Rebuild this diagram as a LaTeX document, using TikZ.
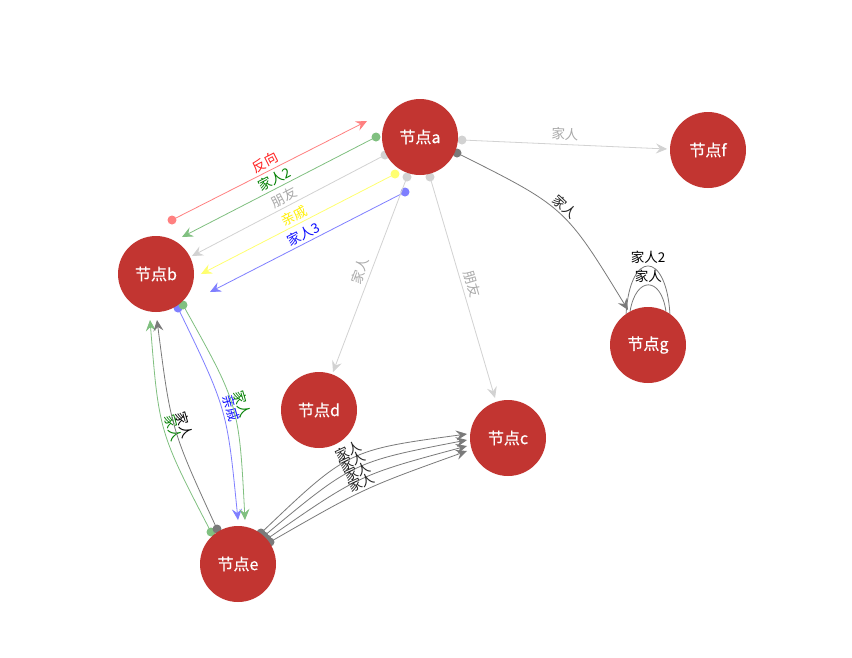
\documentclass[tikz,border=0pt]{standalone}
\usepackage{fontspec}
\setmainfont{Noto Sans CJK SC}
\newfontfamily\ndfont{Noto Sans CJK SC}[FakeBold=0.5]
\usetikzlibrary{arrows.meta}
\pgfdeclarelayer{paper}
\pgfdeclarelayer{bg}
\pgfsetlayers{paper,bg,main}
\definecolor{nodered}{HTML}{C23531}
\definecolor{lred}{HTML}{FF8080}
\definecolor{lgreen}{HTML}{80C080}
\definecolor{lgray}{HTML}{D2D2D2}
\definecolor{lyellow}{HTML}{FFFF70}
\definecolor{lblue}{HTML}{7F7FFF}
\definecolor{dgray}{HTML}{7A7A7A}
\definecolor{tred}{HTML}{FF2020}
\definecolor{tgreen}{HTML}{008000}
\definecolor{tgray}{HTML}{AAAAAA}
\definecolor{tyellow}{HTML}{FFF000}
\definecolor{tblue}{HTML}{1010FF}
\definecolor{tdark}{HTML}{222222}
\begin{document}
\begin{tikzpicture}[x=1pt,y=-1pt,
  nd/.style={circle,fill=nodered,minimum size=76pt,inner sep=0pt,text=white,font=\ndfont\fontsize{16}{18}\selectfont},
  lbl/.style={font=\fontsize{13.5}{15}\selectfont,inner sep=1pt},
  tip/.style={-{Stealth[length=11pt,width=10pt,inset=4pt]}},
  edge/.style={line width=0.8pt},
  dot/.style={radius=4.5}
]
\begin{pgfonlayer}{paper}
\useasboundingbox[fill=white] (0,0) rectangle (852,657);
\end{pgfonlayer}
\node[nd] (a) at (420,137) {节点a};
\node[nd] (f) at (708,150) {节点f};
\node[nd] (b) at (156,274) {节点b};
\node[nd] (g) at (648,345) {节点g};
\node[nd] (d) at (319,410) {节点d};
\node[nd] (c) at (508,438) {节点c};
\node[nd] (e) at (238,564) {节点e};
\begin{pgfonlayer}{bg}
% a -- b parallel edges
\coordinate (rS) at (172,220); \coordinate (rE) at (367,121);
\coordinate (gS) at (376,137); \coordinate (gE) at (182,237);
\coordinate (pS) at (385,155); \coordinate (pE) at (192,256);
\coordinate (qS) at (395,174); \coordinate (qE) at (201,274);
\coordinate (uS) at (405,192); \coordinate (uE) at (210,292);
\draw[edge,tip,lred] (rS) -- node[lbl,sloped,above=1.5pt,text=tred]{反向} (rE);
\fill[lred] (rS) circle[dot];
\draw[edge,tip,lgreen] (gS) -- node[lbl,sloped,above=1.5pt,text=tgreen]{家人2} (gE);
\fill[lgreen] (gS) circle[dot];
\draw[edge,tip,lgray] (pS) -- node[lbl,sloped,above=1.5pt,text=tgray]{朋友} (pE);
\fill[lgray] (pS) circle[dot];
\draw[edge,tip,lyellow] (qS) -- node[lbl,sloped,above=1.5pt,text=tyellow]{亲戚} (qE);
\fill[lyellow] (qS) circle[dot];
\draw[edge,tip,lblue] (uS) -- node[lbl,sloped,above=1.5pt,text=tblue]{家人3} (uE);
\fill[lblue] (uS) circle[dot];
% a -- f
\coordinate (afS) at (462,140); \coordinate (afE) at (667,149);
\draw[edge,tip,lgray] (afS) -- node[lbl,sloped,above=3pt,text=tgray]{家人} (afE);
\fill[lgray] (afS) circle[dot];
% a -- d
\coordinate (adS) at (407,177); \coordinate (adE) at (333,372);
\draw[edge,tip,lgray] (adS) -- node[lbl,sloped,above=3pt,text=tgray]{家人} (adE);
\fill[lgray] (adS) circle[dot];
% a -- c
\coordinate (acS) at (430,177); \coordinate (acE) at (495,398);
\draw[edge,tip,lgray] (acS) -- node[lbl,sloped,above=3pt,text=tgray]{朋友} (acE);
\fill[lgray] (acS) circle[dot];
% a -- g
\coordinate (agS) at (457,153); \coordinate (agE) at (628,310);
\draw[edge,tip,dgray] (agS) .. controls (565,207) .. node[lbl,sloped,above=1pt,text=tdark]{家人} (agE);
\fill[dgray] (agS) circle[dot];
% g self loops
\draw[edge,dgray] (g.125) .. controls (630,250) and (666,250) .. node[lbl,above=0.5pt,text=black]{家人2} (g.55);
\draw[edge,dgray] (g.118) .. controls (636,276) and (661,276) .. node[lbl,above=0.5pt,text=black]{家人} (g.62);
% e -- b
\coordinate (eb1S) at (211,532); \coordinate (eb1E) at (150,320);
\coordinate (eb2S) at (217,529); \coordinate (eb2E) at (157,320);
\draw[edge,tip,lgreen] (eb1S) .. controls (159,432) .. node[lbl,sloped,above=2pt,text=tgreen]{家人} (eb1E);
\draw[edge,tip,dgray] (eb2S) .. controls (171,429) .. node[lbl,sloped,above=2pt,text=black]{家人} (eb2E);
\fill[lgreen] (eb1S) circle[dot];
\fill[dgray] (eb2S) circle[dot];
% b -- e
\coordinate (be1S) at (178,308); \coordinate (be1E) at (238,520);
\coordinate (be2S) at (183,305); \coordinate (be2E) at (245,520);
\draw[edge,tip,lblue] (be1S) .. controls (227,409) .. node[lbl,sloped,above=2pt,text=tblue]{亲戚} (be1E);
\draw[edge,tip,lgreen] (be2S) .. controls (239,405) .. node[lbl,sloped,above=2pt,text=tgreen]{家人} (be2E);
\fill[lblue] (be1S) circle[dot];
\fill[lgreen] (be2S) circle[dot];
% e -- c
\coordinate (ec1S) at (261,533); \coordinate (ec1E) at (467,434);
\coordinate (ec2S) at (264,536); \coordinate (ec2E) at (467,440);
\coordinate (ec3S) at (267,539); \coordinate (ec3E) at (467,446);
\coordinate (ec4S) at (270,542); \coordinate (ec4E) at (467,451);
\draw[edge,tip,dgray] (ec1S) .. controls (348,450) .. node[lbl,sloped,above=1pt,text=tdark]{家人} (ec1E);
\draw[edge,tip,dgray] (ec2S) .. controls (353,462) .. node[lbl,sloped,above=1pt,text=tdark]{家人} (ec2E);
\draw[edge,tip,dgray] (ec3S) .. controls (359,475) .. node[lbl,sloped,above=1pt,text=tdark]{家人} (ec3E);
\draw[edge,tip,dgray] (ec4S) .. controls (364,488) .. node[lbl,sloped,above=1pt,text=tdark]{家人} (ec4E);
\foreach \s in {ec1S,ec2S,ec3S,ec4S} \fill[dgray] (\s) circle[dot];
\end{pgfonlayer}
\end{tikzpicture}
\end{document}
